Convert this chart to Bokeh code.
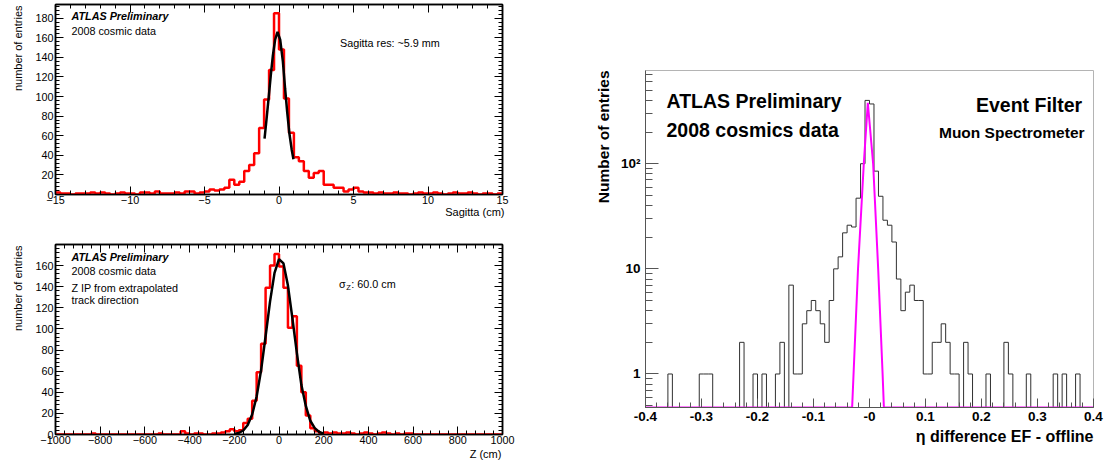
import numpy as np
from bokeh.plotting import figure
from bokeh.models import Range1d, LinearAxis, FixedTicker, Label, Title, CustomJSTickFormatter
from bokeh.layouts import row, column
from bokeh.embed import file_html
from bokeh.resources import INLINE

# ------------------------------------------------------------------ data
# Sagitta histogram (90 bins from -15 to 15 cm)
sag_range = (-15.0, 15.0)
sag_counts = [2, 1, 1, 0, 1, 1, 1, 2, 1, 2, 1, 0, 1, 2, 1, 1, 0, 2, 2, 1,
              3, 1, 1, 1, 2, 1, 3, 3, 1, 2,
              3, 5, 4, 5, 7, 15, 10, 13, 24, 30, 42, 68, 97, 127, 185,
              148, 98, 63, 38, 34, 24, 17, 22, 24, 10, 10, 7, 7, 3, 5,
              7, 3, 2, 2, 1, 2, 1, 1, 2, 1, 1, 0, 1, 2, 1, 1, 2, 1, 0, 1,
              2, 1, 1, 2, 1, 0, 1, 1, 0, 1]
sag_fit_x = [-0.97, -0.85, -0.70, -0.55, -0.41, -0.26, -0.10, 0.08, 0.26, 0.41, 0.55, 0.70, 0.85, 0.97]
sag_fit_y = [57, 75, 98, 122, 142, 158, 166, 158, 136, 108, 84, 62, 46, 36]
sag_xticks = [-15, -10, -5, 0, 5, 10, 15]
sag_yticks = [0, 20, 40, 60, 80, 100, 120, 140, 160, 180]

# Z histogram (100 bins from -1000 to 1000 cm)
z_range = (-1000.0, 1000.0)
z_counts = [0, 0, 0, 0, 0, 0, 0, 0, 1, 0, 0, 0, 0, 0, 0, 0, 0, 0, 0, 0,
            0, 0, 0, 1, 0, 0, 0, 0,
            3, 1, 0, 1, 1, 0, 0, 1, 1, 2, 3, 5, 3, 4,
            11, 15, 32, 59, 86, 139, 160, 171, 159, 139, 101, 112, 65, 40, 18, 6, 3,
            1, 2, 1, 2, 1, 1, 2, 1, 0, 1, 2, 1, 0, 1, 2, 1, 0, 1, 0, 1, 1,
            0, 0, 0, 0, 0, 0, 0, 0, 0, 0, 0, 0, 0, 0, 0, 0, 0, 0, 0, 0]
z_fit_x = [-200, -180, -160, -140, -120, -100, -80, -60, -40, -20, 0,
           20, 40, 60, 80, 100, 120, 140, 160, 180, 200]
z_fit_y = [0.5, 1.4, 3.8, 9, 19, 36, 61, 93, 126, 153, 166,
           162, 141, 110, 77, 47, 27, 13, 6, 2.4, 0.85]
z_xticks = [-1000, -800, -600, -400, -200, 0, 200, 400, 600, 800, 1000]
z_yticks = [0, 20, 40, 60, 80, 100, 120, 140, 160]

# eta difference histogram (100 bins from -0.4 to 0.4)
eta_range = (-0.4, 0.4)
eta_counts = [0, 0, 0, 0, 0, 1, 0, 0, 0, 0,
              0, 0, 1, 1, 1, 0, 0, 0, 0, 0,
              0, 2, 0, 0, 1, 0, 1, 0, 0, 1,
              2, 0, 7, 1, 1, 3, 4, 5, 4, 3,
              2, 5, 10, 13, 22, 26, 25, 47, 100, 400,
              370, 85, 49, 29, 26, 18, 8, 4, 6, 7,
              5, 5, 1, 1, 2, 2, 3, 2, 1, 1,
              0, 2, 1, 0, 0, 0, 1, 0, 0, 0,
              2, 1, 0, 0, 0, 1, 0, 0, 0, 0,
              0, 1, 0, 1, 0, 0, 1, 0, 0, 0]
eta_fit_x = [-0.4, -0.031, -0.0205, -0.0102, -0.003, 0.0065, 0.0155, 0.0234, 0.0257, 0.4]
eta_fit_y = [0.0, 0.0, 10, 100, 380, 100, 10, 1, 0.0, 0.0]
eta_xticks = [-0.4, -0.3, -0.2, -0.1, 0.0, 0.1, 0.2, 0.3, 0.4]
eta_xtick_labels = ["-0.4", "-0.3", "-0.2", "-0.1", "-0", "0.1", "0.2", "0.3", "0.4"]
eta_yticks = [1, 10, 100]
eta_ytick_labels = ["1", "10", "10\u00b2"]

FONT = "Liberation Sans"
ETA_YMIN, ETA_YMAX = 0.48, 770


def style_axis(ax, size="10.8px", bold=False, labels=True, tick_in=8, minor_in=4,
               color="black", width=1.5):
    ax.major_tick_in = tick_in
    ax.major_tick_out = 0
    ax.minor_tick_in = minor_in
    ax.minor_tick_out = 0
    ax.axis_line_color = color
    ax.axis_line_width = width
    ax.major_tick_line_color = color
    ax.minor_tick_line_color = color
    ax.major_tick_line_width = 1
    ax.minor_tick_line_width = 1
    ax.major_label_text_font = FONT
    ax.major_label_text_color = "black"
    ax.major_label_text_font_style = "bold" if bold else "normal"
    if labels:
        ax.major_label_text_font_size = size
    else:
        ax.formatter = CustomJSTickFormatter(code="return ''")
        ax.major_label_text_font_size = "1px"
        ax.major_label_standoff = 0


def add_text(p, x, y, text, size="10.8px", style="normal", align="left"):
    p.add_layout(Label(x=x, y=y, text=text, text_font=FONT, text_font_size=size,
                       text_font_style=style, text_align=align, text_baseline="middle",
                       text_color="black"))


def add_title(p, text, side, size, style, standoff, offset=0):
    p.add_layout(Title(text=text, align="right", text_font=FONT, text_font_size=size,
                       text_font_style=style, text_color="black", standoff=standoff,
                       offset=offset), side)


def root_panel(height, xr, yr, xticks, xminor, yticks, yminor, top_border, bottom_border):
    p = figure(width=540, height=height, x_range=Range1d(*xr), y_range=Range1d(*yr),
               output_backend="svg", toolbar_location=None,
               min_border_left=54, min_border_right=38,
               min_border_top=top_border, min_border_bottom=bottom_border)
    p.grid.visible = False
    p.outline_line_color = "black"
    p.outline_line_width = 1.5
    p.background_fill_color = "white"
    p.border_fill_color = "white"
    xt = FixedTicker(ticks=xticks, minor_ticks=xminor)
    yt = FixedTicker(ticks=yticks, minor_ticks=yminor)
    p.xaxis.ticker = xt
    p.yaxis.ticker = yt
    xa = p.xaxis[0]
    ya = p.yaxis[0]
    style_axis(xa)
    style_axis(ya)
    xa.major_label_standoff = 1
    ya.major_label_standoff = 2
    top = LinearAxis(ticker=xt)
    style_axis(top, labels=False)
    p.add_layout(top, "above")
    right = LinearAxis(ticker=yt)
    style_axis(right, labels=False)
    p.add_layout(right, "right")
    return p


# ------------------------------------------------------------------ top-left: Sagitta
sag_edges = np.linspace(sag_range[0], sag_range[1], len(sag_counts) + 1)
p1 = root_panel(218, sag_range, (0, 194), sag_xticks, list(np.arange(-15, 15.5, 1.0)),
                sag_yticks, list(range(0, 195, 4)), 4, 24)
p1.step(x=sag_edges, y=np.append(sag_counts, sag_counts[-1]), mode="after",
        line_color="#ff0000", line_width=2.5)
p1.line(sag_fit_x, sag_fit_y, line_color="black", line_width=2.5)
add_text(p1, -13.93, 181.8, "ATLAS Preliminary", style="bold italic")
add_text(p1, -13.93, 166.8, "2008 cosmic data")
add_text(p1, 4.09, 154.5, "Sagitta res: ~5.9 mm")
add_title(p1, "Sagitta (cm)", "below", "11px", "normal", standoff=-6, offset=-2)
add_title(p1, "number of entries", "left", "11px", "normal", standoff=18, offset=1)

# ------------------------------------------------------------------ bottom-left: Z
z_edges = np.linspace(z_range[0], z_range[1], len(z_counts) + 1)
p2 = root_panel(242, z_range, (0, 179.9), z_xticks, list(np.arange(-1000, 1001, 40)),
                z_yticks, list(range(0, 181, 4)), 26, 26)
p2.step(x=z_edges, y=np.append(z_counts, z_counts[-1]), mode="after",
        line_color="#ff0000", line_width=2.5)
p2.line(z_fit_x, z_fit_y, line_color="black", line_width=2.5)
add_text(p2, -928.6, 168.0, "ATLAS Preliminary", style="bold italic")
add_text(p2, -928.6, 154.7, "2008 cosmic data")
add_text(p2, -928.6, 138.6, "Z IP from extrapolated")
add_text(p2, -928.6, 126.9, "track direction")
add_text(p2, 267.9, 142.8, "\u03c3")
add_text(p2, 301.3, 138.8, "Z", size="7.5px")
add_text(p2, 323.6, 142.8, ": 60.0 cm")
add_title(p2, "Z  (cm)", "below", "11px", "normal", standoff=-1, offset=-2)
add_title(p2, "number of entries", "left", "11px", "normal", standoff=18, offset=1)

# ------------------------------------------------------------------ right: eta difference
eta_edges = np.linspace(eta_range[0], eta_range[1], len(eta_counts) + 1)
eta_plot = np.maximum(np.array(eta_counts, dtype=float), ETA_YMIN)
eta_fit_plot = np.maximum(np.array(eta_fit_y, dtype=float), ETA_YMIN)

p3 = figure(width=564, height=460, x_range=Range1d(*eta_range),
            y_range=Range1d(ETA_YMIN, ETA_YMAX), y_axis_type="log",
            output_backend="svg", toolbar_location=None,
            min_border_left=105, min_border_right=11, min_border_top=70, min_border_bottom=53)
p3.grid.visible = False
p3.outline_line_color = "#b4b4b4"
p3.outline_line_width = 1
p3.background_fill_color = "white"
p3.border_fill_color = "white"

y_minor = [0.5, 0.6, 0.7, 0.8, 0.9] + [k for k in range(2, 10)] + [10 * k for k in range(2, 10)] + [100 * k for k in range(2, 8)]
p3.xaxis.ticker = FixedTicker(ticks=eta_xticks, minor_ticks=list(np.round(np.arange(-0.4, 0.401, 0.02), 3)))
p3.yaxis.ticker = FixedTicker(ticks=eta_yticks, minor_ticks=y_minor)
xa3 = p3.xaxis[0]
ya3 = p3.yaxis[0]
style_axis(xa3, size="13.5px", bold=True, tick_in=9, minor_in=5, color="#555555", width=1)
style_axis(ya3, size="13.5px", bold=True, tick_in=13, minor_in=7, color="#555555", width=1)
xa3.major_label_overrides = {t: l for t, l in zip(eta_xticks, eta_xtick_labels)}
ya3.major_label_overrides = {t: l for t, l in zip(eta_yticks, eta_ytick_labels)}
xa3.major_label_standoff = 4
ya3.major_label_standoff = 5

p3.step(x=eta_edges, y=np.append(eta_plot, eta_plot[-1]), mode="after",
        line_color="#303030", line_width=1)
p3.line(eta_fit_x, eta_fit_plot, line_color="#ff00ff", line_width=2)

add_text(p3, -0.3625, 394, "ATLAS Preliminary", size="19.5px", style="bold")
add_text(p3, -0.3625, 207, "2008 cosmics data", size="19.5px", style="bold")
add_text(p3, 0.3798, 358, "Event Filter", size="19.5px", style="bold", align="right")
add_text(p3, 0.384, 200, "Muon Spectrometer", size="15.5px", style="bold", align="right")
add_title(p3, "\u03b7 difference EF - offline", "below", "16px", "bold", standoff=5)
add_title(p3, "Number of entries", "left", "15.5px", "bold", standoff=12)

layout = row(column(p1, p2), p3)

open("out.html", "w").write(file_html(layout, INLINE))
